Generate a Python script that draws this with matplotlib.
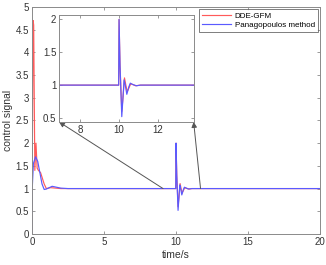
import matplotlib
matplotlib.use('Agg')
import matplotlib.pyplot as plt

plt.rcParams['font.family'] = ['Liberation Sans', 'DejaVu Sans']

t_dde = [0, 0.03, 0.08, 0.12, 0.2, 0.28, 0.36, 0.45, 0.6, 0.7, 0.85, 1.0, 1.3, 2.0, 3.0,
         9.98, 10.0, 10.05, 10.14, 10.2, 10.28, 10.35, 10.42, 10.5, 10.6, 10.7, 10.85, 11.1, 20]
u_dde = [0, 2.0, 4.7, 4.6, 1.4, 2.0, 1.45, 1.4, 1.35, 1.25, 1.1, 1.0, 1.02, 1.0, 1.0,
         1.0, 2.0, 1.3, 0.6, 0.8, 1.11, 1.0, 0.9, 0.95, 1.02, 1.01, 0.99, 1.0, 1.0]

t_pan = [0, 0.02, 0.1, 0.25, 0.4, 0.55, 0.7, 0.85, 1.0, 1.4, 2.0, 2.5,
         9.98, 10.0, 10.05, 10.14, 10.2, 10.26, 10.32, 10.4, 10.5, 10.58, 10.7, 10.9, 11.1, 20]
u_pan = [0, 1.0, 1.55, 1.7, 1.6, 1.35, 1.1, 0.98, 0.99, 1.05, 1.01, 1.0,
         1.0, 2.0, 1.3, 0.52, 0.8, 1.08, 1.0, 0.86, 0.97, 1.03, 1.01, 0.99, 1.0, 1.0]

labels = ['DDE-GFM', 'Panagopoulos method']
red = '#ff5a5a'
blue = '#5a5aff'
grey = '#8a8a8a'
txt = '#333333'

fig = plt.figure(figsize=(3.26, 2.65), dpi=100)
ax = fig.add_axes([0.098, 0.117, 0.884, 0.857])
ax.plot(t_dde, u_dde, color=red, lw=0.85, label=labels[0])
ax.plot(t_pan, u_pan, color=blue, lw=0.85, label=labels[1])
ax.set_xlim(0, 20)
ax.set_ylim(0, 5)
ax.set_xticks([0, 5, 10, 15, 20])
ax.set_yticks([0, 0.5, 1, 1.5, 2, 2.5, 3, 3.5, 4, 4.5, 5])
ax.set_yticklabels(['0', '0.5', '1', '1.5', '2', '2.5', '3', '3.5', '4', '4.5', '5'])
ax.set_xlabel('time/s', fontsize=7.5, color=txt, labelpad=2)
ax.set_ylabel('control signal', fontsize=7.5, color=txt, labelpad=2)
ax.tick_params(direction='in', top=True, right=True, labelsize=7, colors=grey,
               labelcolor=txt, length=2.5, width=0.6, pad=2)
for s in ax.spines.values():
    s.set_color(grey)
    s.set_linewidth(0.7)

leg = ax.legend(loc='upper right', fontsize=5.8, frameon=True, fancybox=False,
                handlelength=3.6, borderpad=0.35, labelspacing=0.2,
                handletextpad=0.5, borderaxespad=0.3)
leg.get_frame().set_edgecolor('#444444')
leg.get_frame().set_linewidth(0.6)

axin = fig.add_axes([0.181, 0.540, 0.413, 0.404])
axin.plot(t_dde, u_dde, color=red, lw=0.85)
axin.plot(t_pan, u_pan, color=blue, lw=0.85)
axin.set_xlim(6.9, 13.85)
axin.set_ylim(0.44, 2.07)
axin.set_xticks([8, 10, 12])
axin.set_yticks([0.5, 1, 1.5, 2])
axin.set_yticklabels(['0.5', '1', '1.5', '2'])
axin.tick_params(direction='in', top=True, right=True, labelsize=7, colors=grey,
                 labelcolor=txt, length=2.5, width=0.6, pad=2)
for s in axin.spines.values():
    s.set_color(grey)
    s.set_linewidth(0.7)

arrow = dict(arrowstyle='-|>', color='#555555', lw=0.7, mutation_scale=8, shrinkA=0, shrinkB=0)
ax.annotate('', xy=(0, 0), xycoords=axin.transAxes, xytext=(9.1, 1.0),
            textcoords='data', arrowprops=arrow)
ax.annotate('', xy=(1, 0), xycoords=axin.transAxes, xytext=(11.7, 1.0),
            textcoords='data', arrowprops=arrow)

fig.savefig('out.png', dpi=100)
